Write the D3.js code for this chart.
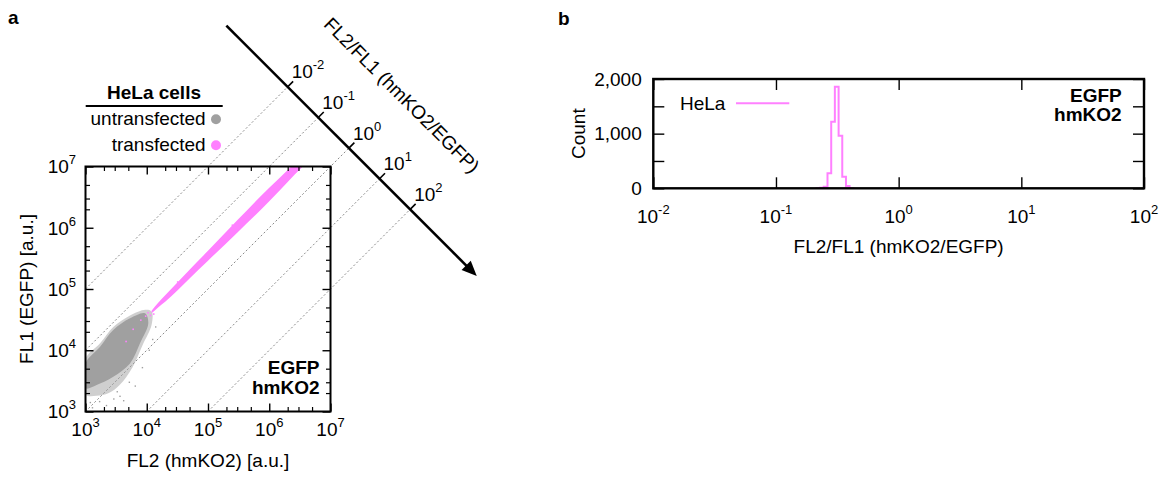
<!DOCTYPE html>
<html>
<head>
<meta charset="utf-8">
<script src="https://cdn.jsdelivr.net/npm/d3@7"></script>
<style>
  body { margin: 0; background: #fff; }
  text { font-family: "Liberation Sans", Arial, Helvetica, sans-serif; fill: #000; }
</style>
</head>
<body>
<svg id="chart" width="1164" height="479"></svg>
<script>
// ---------------- DATA ----------------
// Panel a: scatter FL2 vs FL1 (log axes)
const fl2Majors = [1e3, 1e4, 1e5, 1e6, 1e7];
const fl1Majors = [1e3, 1e4, 1e5, 1e6, 1e7];
const minorMultipliers = [2, 3, 5];
const ratioTicks = [1e-2, 1e-1, 1, 1e1, 1e2];        // FL2/FL1 diagonal guides
const arrowRatioRange = [1e-4, 1.5e4];                // extent of the diagonal ratio axis
const arrowProduct = Math.pow(10, 14.6);              // FL1*FL2 along the ratio axis
const arrowTitleProduct = Math.pow(10, 16.33);

// untransfected cloud (dense core outline, sparse fringe outline) [FL2, FL1]
const grayCore = [[1e3, 6.1e3], [1.73e3, 1.14e4], [2.84e3, 2.14e4], [5.33e3, 3.32e4], [9.36e3, 4.01e4],
                  [1.06e4, 2.75e4], [7.76e3, 1.3e4], [5.33e3, 6.1e3], [2.84e3, 3.7e3], [1.52e3, 2.71e3], [1e3, 2.39e3]];
const grayFringe = [[1e3, 7.2e3], [1.73e3, 1.3e4], [2.84e3, 2.4e4], [5.33e3, 3.7e4], [9.5e3, 4.6e4],
                    [1.2e4, 4.3e4], [1.2e4, 2.6e4], [8.5e3, 1.2e4], [5.8e3, 5.2e3], [3.6e3, 2.7e3],
                    [2.4e3, 2.0e3], [1.5e3, 1.8e3], [1e3, 1.9e3]];
const grayOutliers = [[3.66e3, 1.77e3], [4.2e3, 1.5e3], [2.2e3, 1.25e3], [1.3e3, 1.15e3], [6.5e3, 2.6e3],
                      [1.4e4, 2.4e4], [1.25e4, 1.5e4], [8.5e3, 5.2e3], [2.9e3, 1.6e3], [1.7e3, 1.45e3],
                      [5.2e3, 3.0e3], [1.1e4, 1.0e4], [3.3e3, 2.1e3], [1.2e3, 1.4e3]];

// transfected band [FL2, FL1 low edge, FL1 high edge]
const pinkFL2     = [1.2e4, 1.5e4, 2e4,    5e4,    1e5,   3e5,    1e6,   2e6,   3.4e6];
const pinkFL1Low  = [4.0e4, 4.9e4, 6.2e4, 1.49e5, 2.9e5, 8.3e5,  2.7e6, 5.6e6, 9.6e6];
const pinkFL1High = [4.4e4, 5.8e4, 7.9e4, 2.06e5, 4.2e5, 1.32e6, 4.5e6, 8.8e6, 1.5e7];
const pinkOutliers = [[4.6e3, 1.39e4], [9.6e3, 3.6e4], [6e3, 2.2e4], [1.15e4, 3.7e4], [1.3e4, 3.9e4],
                      [3.2e4, 1.3e5], [2.5e5, 1.1e6], [7e5, 2.1e6], [1.05e4, 4.1e4], [8e3, 3.1e4]];

// Panel b: histogram of FL2/FL1
const histEdges  = [0.214, 0.229, 0.245, 0.263, 0.282, 0.302, 0.324, 0.347, 0.372, 0.398, 0.427];
const histCounts = [4, 10, 28, 274, 1219, 1860, 963, 212, 42, 6];
const countTicks = [0, 500, 1000, 1500, 2000];
const countLabeled = [0, 1000, 2000];
const ratioMajors = [1e-2, 1e-1, 1, 1e1, 1e2];
const histSeriesName = "HeLa";

// ---------------- DRAW ----------------
const svg = d3.select("#chart");
svg.append("rect").attr("width", 1164).attr("height", 479).attr("fill", "#fff");
const GRAY = "#a0a0a0", PINK = "#ff80ff";

function powLabel(g, v, x, y, anchor) {
  const e = Math.round(Math.log10(v));
  const t = g.append("text").attr("x", x).attr("y", y).attr("text-anchor", anchor).attr("font-size", 19);
  t.append("tspan").text("10");
  t.append("tspan").attr("dy", -9).attr("font-size", 13).text(String(e));
  return t;
}
function styleAxis(g, w) {
  g.select(".domain").remove();
  g.selectAll(".tick line").attr("stroke", "#000").attr("stroke-width", w);
}

// ===== Panel a =====
const A = { l: 85.5, r: 330.5, t: 166.5, b: 411.5 };
const x = d3.scaleLog().domain([1e3, 1e7]).range([A.l, A.r]);
const y = d3.scaleLog().domain([1e3, 1e7]).range([A.b, A.t]);
const ga = svg.append("g");

svg.append("defs").append("clipPath").attr("id", "clipA")
  .append("rect").attr("x", A.l).attr("y", A.t).attr("width", A.r - A.l).attr("height", A.b - A.t);

const arrowPt = r => [x(Math.sqrt(arrowProduct * r)), y(Math.sqrt(arrowProduct / r))];

// diagonal dashed guides
ratioTicks.forEach(r => {
  const s = r <= 1 ? [x(1e3), y(1e3 / r)] : [x(1e3 * r), y(1e3)];
  const e = arrowPt(r);
  ga.append("line").attr("x1", s[0]).attr("y1", s[1]).attr("x2", e[0]).attr("y2", e[1])
    .attr("stroke", "#8a8a8a").attr("stroke-width", 1).attr("stroke-dasharray", "2,2.2");
});

// scatter
const sc = ga.append("g").attr("clip-path", "url(#clipA)");
const blob = d3.line().x(d => x(d[0])).y(d => y(d[1])).curve(d3.curveCatmullRomClosed.alpha(0.5));
sc.append("path").attr("d", blob(grayFringe)).attr("fill", GRAY).attr("opacity", 0.5);
sc.append("path").attr("d", blob(grayCore)).attr("fill", GRAY);
sc.selectAll(".go").data(grayOutliers).enter().append("rect")
  .attr("x", d => x(d[0]) - 0.7).attr("y", d => y(d[1]) - 0.7).attr("width", 1.4).attr("height", 1.4).attr("fill", GRAY);
const band = pinkFL2.map((v, i) => ({ fl2: v, lo: pinkFL1Low[i], hi: pinkFL1High[i] }));
sc.append("path")
  .attr("d", d3.area().x(d => x(d.fl2)).y0(d => y(d.lo)).y1(d => y(d.hi)).curve(d3.curveMonotoneX)(band))
  .attr("fill", PINK);
sc.selectAll(".po").data(pinkOutliers).enter().append("rect")
  .attr("x", d => x(d[0]) - 0.8).attr("y", d => y(d[1]) - 0.8).attr("width", 1.6).attr("height", 1.6).attr("fill", PINK);

// ticks
const aMinors = [];
fl2Majors.slice(0, -1).forEach(d => minorMultipliers.forEach(m => aMinors.push(d * m)));
[[d3.axisBottom(x), A.b], [d3.axisTop(x), A.t]].forEach(([ax, pos]) => {
  styleAxis(ga.append("g").attr("transform", `translate(0,${pos})`).call(ax.tickValues(fl2Majors).tickSize(-8).tickFormat("")), 1.4);
  styleAxis(ga.append("g").attr("transform", `translate(0,${pos})`).call(ax.tickValues(aMinors).tickSize(-4.5).tickFormat("")), 1.2);
});
[[d3.axisLeft(y), A.l], [d3.axisRight(y), A.r]].forEach(([ax, pos]) => {
  styleAxis(ga.append("g").attr("transform", `translate(${pos},0)`).call(ax.tickValues(fl1Majors).tickSize(-8).tickFormat("")), 1.4);
  styleAxis(ga.append("g").attr("transform", `translate(${pos},0)`).call(ax.tickValues(aMinors).tickSize(-4.5).tickFormat("")), 1.2);
});
ga.append("rect").attr("x", A.l).attr("y", A.t).attr("width", A.r - A.l).attr("height", A.b - A.t)
  .attr("fill", "none").attr("stroke", "#000").attr("stroke-width", 2);

fl2Majors.forEach(v => powLabel(ga, v, x(v), 435.7, "middle"));
fl1Majors.forEach(v => powLabel(ga, v, 76, y(v) + 6.8, "end"));

ga.append("text").attr("x", (A.l + A.r) / 2).attr("y", 466.5).attr("text-anchor", "middle")
  .attr("font-size", 19).text("FL2 (hmKO2) [a.u.]");
ga.append("text").attr("transform", `translate(33,${(A.t + A.b) / 2}) rotate(-90)`).attr("text-anchor", "middle")
  .attr("font-size", 19).text("FL1 (EGFP) [a.u.]");
ga.append("text").attr("x", 319.5).attr("y", 374.3).attr("text-anchor", "end").attr("font-size", 19)
  .attr("font-weight", "bold").text("EGFP");
ga.append("text").attr("x", 319.5).attr("y", 393.6).attr("text-anchor", "end").attr("font-size", 19)
  .attr("font-weight", "bold").text("hmKO2");

// ratio arrow axis
const pA = arrowPt(arrowRatioRange[0]), pB = arrowPt(arrowRatioRange[1]);
const L = Math.hypot(pB[0] - pA[0], pB[1] - pA[1]);
const ux = (pB[0] - pA[0]) / L, uy = (pB[1] - pA[1]) / L;
const headLen = 15, headHalf = 6.5;
const base = [pB[0] - ux * headLen, pB[1] - uy * headLen];
ga.append("line").attr("x1", pA[0]).attr("y1", pA[1]).attr("x2", base[0] + ux * 2).attr("y2", base[1] + uy * 2)
  .attr("stroke", "#000").attr("stroke-width", 2.6);
ga.append("path").attr("d", `M${pB[0]},${pB[1]} L${base[0] - uy * headHalf},${base[1] + ux * headHalf} L${base[0] + uy * headHalf},${base[1] - ux * headHalf} Z`)
  .attr("fill", "#000");
ratioTicks.forEach(r => {
  const p = arrowPt(r);
  ga.append("line").attr("x1", p[0]).attr("y1", p[1]).attr("x2", p[0] + 5.5).attr("y2", p[1] - 5.5)
    .attr("stroke", "#000").attr("stroke-width", 1.6);
  powLabel(ga, r, p[0] + 4, p[1] - 8.6, "start");
});
const tc = [x(Math.sqrt(arrowTitleProduct)), y(Math.sqrt(arrowTitleProduct))];
ga.append("text").attr("transform", `translate(${tc[0]},${tc[1]}) rotate(45)`).attr("text-anchor", "middle")
  .attr("dy", "0.35em").attr("font-size", 19).text("FL2/FL1 (hmKO2/EGFP)");

// legend
ga.append("text").attr("x", 154).attr("y", 99).attr("text-anchor", "middle").attr("font-size", 19)
  .attr("font-weight", "bold").text("HeLa cells");
ga.append("line").attr("x1", 85.7).attr("x2", 222.7).attr("y1", 106).attr("y2", 106).attr("stroke", "#000").attr("stroke-width", 1.8);
[["untransfected", GRAY, 125, 119.3], ["transfected", PINK, 150.7, 145.3]].forEach(([lab, c, by, cy]) => {
  ga.append("text").attr("x", 205.7).attr("y", by).attr("text-anchor", "end").attr("font-size", 19).text(lab);
  ga.append("circle").attr("cx", 216).attr("cy", cy).attr("r", 5).attr("fill", c);
});
svg.append("text").attr("x", 8).attr("y", 24).attr("font-size", 19).attr("font-weight", "bold").text("a");

// ===== Panel b =====
const B = { l: 653.3, r: 1144, t: 79, b: 188.3 };
const hx = d3.scaleLog().domain([1e-2, 1e2]).range([B.l, B.r]);
const hy = d3.scaleLinear().domain([0, 2000]).range([B.b, B.t]);
const gb = svg.append("g");

const pts = [[histEdges[0], 0]];
histCounts.forEach((c, i) => { pts.push([histEdges[i], c]); pts.push([histEdges[i + 1], c]); });
pts.push([histEdges[histEdges.length - 1], 0]);
gb.append("path").attr("d", d3.line().x(d => hx(d[0])).y(d => hy(d[1]))(pts))
  .attr("fill", "none").attr("stroke", PINK).attr("stroke-width", 2).attr("stroke-linejoin", "miter");

styleAxis(gb.append("g").attr("transform", `translate(0,${B.b})`).call(d3.axisBottom(hx).tickValues(ratioMajors).tickSize(-11).tickFormat("")), 1.4);
styleAxis(gb.append("g").attr("transform", `translate(0,${B.t})`).call(d3.axisTop(hx).tickValues(ratioMajors).tickSize(-11).tickFormat("")), 1.4);
const yl = gb.append("g").attr("transform", `translate(${B.l},0)`)
  .call(d3.axisLeft(hy).tickValues(countTicks).tickSize(-11).tickPadding(11.6)
    .tickFormat(d => countLabeled.includes(d) ? d3.format(",")(d) : ""));
styleAxis(yl, 1.4);
yl.selectAll("text").attr("font-size", 19).attr("fill", "#000").attr("font-family", null);
styleAxis(gb.append("g").attr("transform", `translate(${B.r},0)`).call(d3.axisRight(hy).tickValues(countTicks).tickSize(-11).tickFormat("")), 1.4);
gb.append("rect").attr("x", B.l).attr("y", B.t).attr("width", B.r - B.l).attr("height", B.b - B.t)
  .attr("fill", "none").attr("stroke", "#000").attr("stroke-width", 2.4);

ratioMajors.forEach(v => powLabel(gb, v, hx(v), 222.7, "middle"));
gb.append("text").attr("x", (B.l + B.r) / 2).attr("y", 252.7).attr("text-anchor", "middle").attr("font-size", 19)
  .text("FL2/FL1 (hmKO2/EGFP)");
gb.append("text").attr("transform", `translate(585,${(B.t + B.b) / 2}) rotate(-90)`).attr("text-anchor", "middle")
  .attr("font-size", 19).text("Count");
gb.append("text").attr("x", 1121.7).attr("y", 101.7).attr("text-anchor", "end").attr("font-size", 19)
  .attr("font-weight", "bold").text("EGFP");
gb.append("text").attr("x", 1121.7).attr("y", 121).attr("text-anchor", "end").attr("font-size", 19)
  .attr("font-weight", "bold").text("hmKO2");
gb.append("text").attr("x", 680).attr("y", 110).attr("font-size", 19).text(histSeriesName);
gb.append("line").attr("x1", 736).attr("x2", 789.3).attr("y1", 103.3).attr("y2", 103.3).attr("stroke", PINK).attr("stroke-width", 2);
svg.append("text").attr("x", 558).attr("y", 25).attr("font-size", 19).attr("font-weight", "bold").text("b");
</script>
</body>
</html>
